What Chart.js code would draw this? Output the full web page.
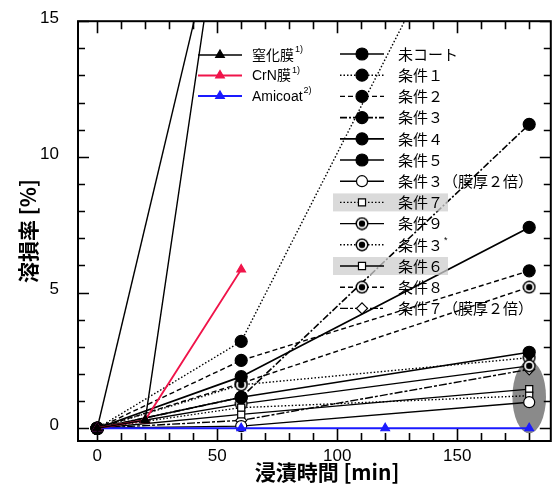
<!DOCTYPE html>
<html>
<head>
<meta charset="utf-8">
<script src="https://cdn.jsdelivr.net/npm/chart.js@4"></script>
<style>
  html, body { margin: 0; padding: 0; background: #fff; }
  #wrap { width: 558px; height: 493px; }
</style>
</head>
<body>
<div id="wrap"><canvas id="grafico"></canvas></div>
<script>
// --- data ---
const timesNit = [0, 20, 60];
const nitride  = [0, 0.3, 24.3];
const crn      = [0, 0.3, 5.85];
const timesAmi = [0, 60, 120, 180];
const amicoat  = [0, 0, 0, 0];
const timesUn  = [0, 60];
const uncoated = [0, 22.3];
const times    = [0, 60, 180];
const cond1    = [0, 3.2, 24];
const cond2    = [0, 2.5, 5.8];
const cond3    = [0, 1.14, 11.2];
const cond4    = [0, 1.9, 7.4];
const cond5    = [0, 1.14, 2.8];
const cond3x2  = [0, 0.08, 0.96];
const cond7    = [0, 0.76, 1.2];
const cond9    = [0, 0.9, 2.3];
const cond3s   = [0, 1.6, 2.6];
const cond6    = [0, 0.51, 1.44];
const cond8    = [0, 1.66, 5.2];
const cond7x2  = [0, 0.29, 2.17];

const xTicks = [0, 50, 100, 150];
const yTicks = [0, 5, 10, 15];
const xTitle = '浸漬時間 [min]';

function pts(xs, ys) {
    return ys.map((v, i) => ({ x: xs[i], y: v }));
}

// circle with dot marker
function makeRing() {
    const c = document.createElement('canvas');
    c.width = 14; c.height = 14;
    const g = c.getContext('2d');
    g.fillStyle = '#000';
    g.beginPath(); g.arc(7, 7, 6.5, 0, Math.PI * 2); g.fill();
    g.fillStyle = '#fff';
    g.beginPath(); g.arc(7, 7, 5, 0, Math.PI * 2); g.fill();
    g.fillStyle = '#000';
    g.beginPath(); g.arc(7, 7, 3.2, 0, Math.PI * 2); g.fill();
    return c;
}
const ring = makeRing();

const DOT = [1.5, 2];
const DASH = [5, 3];
const DASHDOT = [7, 2, 2, 2];

function serie(label, xs, ys, opt) {
    return Object.assign({
        label: label,
        data: pts(xs, ys),
        borderColor: '#000',
        backgroundColor: '#000',
        borderWidth: 1.4,
        borderDash: [],
        pointStyle: 'circle',
        pointRadius: 6,
        pointBackgroundColor: '#000',
        pointBorderColor: '#000',
        pointBorderWidth: 1.2,
        tension: 0
    }, opt || {});
}

const datasets = [
    serie('窒化膜', timesNit, nitride, { pointStyle: 'triangle', pointRadius: 5 }),
    serie('CrN膜', timesNit, crn, { borderColor: '#f0144a', pointStyle: 'triangle', pointRadius: 5, pointBackgroundColor: '#f0144a', pointBorderColor: '#f0144a', borderWidth: 1.8 }),
    serie('Amicoat', timesAmi, amicoat, { borderColor: '#1a1aff', pointStyle: 'triangle', pointRadius: 5, pointBackgroundColor: '#1a1aff', pointBorderColor: '#1a1aff', borderWidth: 2.2 }),
    serie('未コート', timesUn, uncoated),
    serie('条件１', times, cond1, { borderDash: DOT }),
    serie('条件２', times, cond2, { borderDash: DASH }),
    serie('条件３', times, cond3, { borderDash: DASHDOT, borderWidth: 1.6 }),
    serie('条件４', times, cond4, { borderWidth: 1.8 }),
    serie('条件５', times, cond5),
    serie('条件３（膜厚２倍）', times, cond3x2, { pointBackgroundColor: '#fff', pointRadius: 5.5 }),
    serie('条件７', times, cond7, { borderDash: DOT, pointStyle: 'rect', pointRadius: 5, pointBackgroundColor: '#fff' }),
    serie('条件９', times, cond9, { pointStyle: ring }),
    serie('条件３*', times, cond3s, { borderDash: DOT, pointStyle: ring }),
    serie('条件６', times, cond6, { pointStyle: 'rect', pointRadius: 5, pointBackgroundColor: '#fff' }),
    serie('条件８', times, cond8, { borderDash: DASH, pointStyle: ring }),
    serie('条件７（膜厚２倍）', times, cond7x2, { borderDash: [8, 2, 3, 2], pointStyle: 'rectRot', pointRadius: 5.5, pointBackgroundColor: '#fff' })
];

// legend layout
const legendLeft = [
    { i: 0, text: '窒化膜', sup: '1)' },
    { i: 1, text: 'CrN膜', sup: '1)' },
    { i: 2, text: 'Amicoat', sup: '2)' }
];
const legendRight = [3, 4, 5, 6, 7, 8, 9, 10, 11, 12, 13, 14, 15];
const shaded = [10, 13];

function drawSample(ctx, ds, x0, x1, y) {
    ctx.save();
    ctx.strokeStyle = ds.borderColor;
    ctx.lineWidth = ds.borderWidth;
    ctx.setLineDash(ds.borderDash);
    ctx.beginPath();
    ctx.moveTo(x0, y);
    ctx.lineTo(x1, y);
    ctx.stroke();
    ctx.setLineDash([]);
    ctx.fillStyle = ds.pointBackgroundColor;
    ctx.strokeStyle = ds.pointBorderColor;
    ctx.lineWidth = ds.pointBorderWidth;
    Chart.helpers.drawPoint(ctx, { pointStyle: ds.pointStyle, radius: ds.pointRadius, rotation: 0, borderWidth: ds.pointBorderWidth }, (x0 + x1) / 2, y);
    ctx.restore();
}

const decor = {
    id: 'decor',
    beforeDatasetsDraw(chart) {
        const ctx = chart.ctx;
        const xs = chart.scales.x, ys = chart.scales.y;
        // gray ellipse round the 180 min cluster
        const cx = xs.getPixelForValue(180), cy = ys.getPixelForValue(1.15);
        const rx = xs.getPixelForValue(187) - cx, ry = cy - ys.getPixelForValue(2.48);
        ctx.save();
        ctx.fillStyle = '#8a8a8a';
        ctx.beginPath();
        ctx.ellipse(cx, cy, rx, ry, 0, 0, Math.PI * 2);
        ctx.fill();
        ctx.restore();
    },
    afterDraw(chart) {
        const ctx = chart.ctx;
        const a = chart.chartArea;
        const xs = chart.scales.x, ys = chart.scales.y;
        ctx.save();
        ctx.strokeStyle = '#000';
        ctx.lineWidth = 1.6;
        // minor and major ticks, inward, all four sides
        for (let v = 0; v <= 180; v += 10) {
            const px = Math.round(xs.getPixelForValue(v)) + 0.5;
            const len = v % 50 === 0 ? 12 : 8;
            ctx.beginPath();
            ctx.moveTo(px, a.bottom); ctx.lineTo(px, a.bottom - len);
            ctx.moveTo(px, a.top); ctx.lineTo(px, a.top + len);
            ctx.stroke();
        }
        for (let v = 0; v <= 15; v += 1) {
            const py = Math.round(ys.getPixelForValue(v)) + 0.5;
            const len = v % 5 === 0 ? 11 : 7;
            ctx.beginPath();
            ctx.moveTo(a.left, py); ctx.lineTo(a.left + len, py);
            ctx.moveTo(a.right, py); ctx.lineTo(a.right - len, py);
            ctx.stroke();
        }
        ctx.lineWidth = 2;
        ctx.strokeRect(a.left, a.top, a.right - a.left, a.bottom - a.top);

        // x tick labels and title
        ctx.fillStyle = '#000';
        ctx.font = '17px "Liberation Sans", Arial, sans-serif';
        ctx.textAlign = 'center';
        ctx.textBaseline = 'middle';
        xTicks.forEach(v => ctx.fillText(String(v), xs.getPixelForValue(v), a.bottom + 15));
        ctx.font = 'bold 21px "Noto Sans CJK JP", sans-serif';
        ctx.fillText(xTitle, 327, a.bottom + 31);
        ctx.textAlign = 'left';

        // legend, left column
        legendLeft.forEach((e, k) => {
            const y = 55 + k * 20.5;
            drawSample(ctx, datasets[e.i], 198, 242, y);
            ctx.fillStyle = '#000';
            ctx.font = '14px "Liberation Sans", "Noto Sans CJK JP", sans-serif';
            ctx.fillText(e.text, 252, y + 1);
            const w = ctx.measureText(e.text).width;
            ctx.font = '9px "Liberation Sans", sans-serif';
            ctx.fillText(e.sup, 252 + w + 1, y - 5);
        });
        // legend, right column
        legendRight.forEach((i, k) => {
            const y = 54 + k * 21.2;
            if (shaded.includes(i)) {
                ctx.fillStyle = 'rgba(205,205,205,0.75)';
                ctx.fillRect(333, y - 9, 115, 18);
            }
            drawSample(ctx, datasets[i], 340, 384, y);
            ctx.fillStyle = '#000';
            let t = datasets[i].label;
            ctx.font = '15px "Noto Sans CJK JP", sans-serif';
            if (t.endsWith('*')) {
                t = t.slice(0, -1);
                ctx.fillText(t, 398, y);
                const w = ctx.measureText(t).width;
                ctx.font = '9px "Liberation Sans", sans-serif';
                ctx.fillText('*', 398 + w + 1, y - 4);
            } else {
                ctx.fillText(t, 398, y);
            }
        });
        ctx.restore();
    }
};

const ctx = document.getElementById('grafico');
const myChart = new Chart(ctx, {
    type: 'line',
    data: { datasets: datasets },
    options: {
        responsive: true,
        maintainAspectRatio: false,
        animation: false,
        layout: { padding: { top: 16, right: 5, left: 0, bottom: 0 } },
        plugins: {
            legend: { display: false },
            tooltip: { enabled: false }
        },
        scales: {
            x: {
                type: 'linear',
                min: -8,
                max: 189,
                grid: { display: false },
                border: { display: false },
                afterBuildTicks: (s) => { s.ticks = xTicks.map(v => ({ value: v })); },
                afterFit: (s) => { s.height = 52; },
                ticks: { display: false },
                title: { display: false }
            },
            y: {
                type: 'linear',
                min: -0.47,
                max: 15,
                grid: { display: false },
                border: { display: false },
                afterBuildTicks: (s) => { s.ticks = yTicks.map(v => ({ value: v })); },
                afterFit: (s) => { s.width = 78; },
                ticks: {
                    color: '#000',
                    padding: 11,
                    labelOffset: -3,
                    font: { family: '"Liberation Sans", Arial, sans-serif', size: 17 }
                },
                title: {
                    display: true,
                    text: '溶損率 [%]',
                    color: '#000',
                    padding: { top: 15, bottom: 0 },
                    font: { family: '"Noto Sans CJK JP", sans-serif', size: 21, weight: 'bold' }
                }
            }
        }
    },
    plugins: [decor]
});
</script>
</body>
</html>
